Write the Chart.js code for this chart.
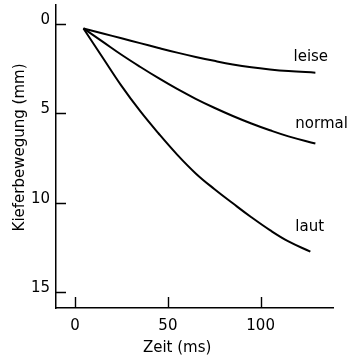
<!DOCTYPE html>
<html>
<head>
<meta charset="utf-8">
<script src="https://cdn.jsdelivr.net/npm/chart.js@4/dist/chart.umd.min.js"></script>
<style>
  html, body { margin: 0; padding: 0; background: #fff; }
  #wrap { width: 352px; height: 357px; }
</style>
</head>
<body>
<div id="wrap"><canvas id="c" width="352" height="357"></canvas></div>
<script>
// Data
const seriesNames = ['leise', 'normal', 'laut'];
const timeLeise  = [4.5, 15, 25, 35, 45, 55, 65, 75, 85, 95, 105, 115, 129.5];
const leise      = [0.25, 0.53, 0.80, 1.07, 1.34, 1.60, 1.84, 2.06, 2.26, 2.42, 2.54, 2.63, 2.72];
const timeNormal = [4.5, 15, 25, 35, 45, 55, 65, 75, 85, 95, 105, 115, 129.5];
const normal     = [0.25, 1.00, 1.72, 2.39, 3.03, 3.63, 4.18, 4.68, 5.14, 5.56, 5.94, 6.28, 6.68];
const timeLaut   = [4.5, 15, 25, 35, 45, 55, 65, 75, 85, 95, 105, 115, 126.8];
const laut       = [0.25, 1.90, 3.46, 4.86, 6.12, 7.30, 8.35, 9.22, 10.02, 10.80, 11.52, 12.15, 12.72];
const xTicks = [0, 50, 100];
const yTicks = [0, 5, 10, 15];
const xTitle = 'Zeit (ms)';
const yTitle = 'Kieferbewegung (mm)';

// label anchors (data coordinates) for curve names
const labelAnchorX = [117.7, 118.7, 118.7];
const labelAnchorY = [1.85, 5.6, 11.34];

const FONT = "'DejaVu Sans', sans-serif";

function pts(xs, ys) { return xs.map((x, i) => ({ x: x, y: ys[i] })); }

const decorations = {
  id: 'decorations',
  afterDatasetsDraw(chart) {
    const ctx = chart.ctx, xs = chart.scales.x, ys = chart.scales.y, a = chart.chartArea;
    ctx.save();
    // inward tick marks
    ctx.strokeStyle = '#000';
    ctx.lineWidth = 1.4;
    ctx.beginPath();
    xTicks.forEach(v => {
      const px = Math.round(xs.getPixelForValue(v)) + 0.5;
      ctx.moveTo(px, a.bottom);
      ctx.lineTo(px, a.bottom - 11);
    });
    ctx.stroke();
    ctx.beginPath();
    yTicks.forEach(v => {
      const py = Math.round(ys.getPixelForValue(v)) + 0.5;
      ctx.moveTo(a.left, py);
      ctx.lineTo(a.left + 10, py);
    });
    ctx.stroke();
    // curve names
    ctx.fillStyle = '#000';
    ctx.font = '15px ' + FONT;
    ctx.textAlign = 'left';
    ctx.textBaseline = 'middle';
    seriesNames.forEach((n, i) => {
      ctx.fillText(n, xs.getPixelForValue(labelAnchorX[i]), ys.getPixelForValue(labelAnchorY[i]));
    });
    // x axis title
    ctx.textAlign = 'center';
    ctx.fillText(xTitle, xs.getPixelForValue(55), 348);
    // y axis title
    ctx.translate(20, ys.getPixelForValue(6.9));
    ctx.rotate(-Math.PI / 2);
    ctx.fillText(yTitle, 0, 0);
    ctx.restore();
  }
};

new Chart(document.getElementById('c'), {
  type: 'line',
  data: {
    datasets: [
      { label: seriesNames[0], data: pts(timeLeise, leise) },
      { label: seriesNames[1], data: pts(timeNormal, normal) },
      { label: seriesNames[2], data: pts(timeLaut, laut) }
    ].map(d => Object.assign(d, {
      borderColor: '#000', borderWidth: 2, pointRadius: 0,
      tension: 0.4, fill: false
    }))
  },
  options: {
    responsive: false,
    animation: false,
    devicePixelRatio: 1,
    layout: { padding: { left: 0, right: 19, top: 5, bottom: 0 } },
    plugins: { legend: { display: false }, tooltip: { enabled: false } },
    scales: {
      x: {
        type: 'linear', min: -10.3, max: 139,
        afterBuildTicks: s => { s.ticks = xTicks.map(v => ({ value: v })); },
        afterFit: s => { s.height = 49; s.paddingLeft = 0; s.paddingRight = 0; },
        border: { display: true, color: '#000', width: 1.5 },
        grid: { drawOnChartArea: false, drawTicks: false, display: true },
        ticks: { color: '#000', font: { family: FONT, size: 15 }, padding: 9, maxRotation: 0 }
      },
      y: {
        type: 'linear', reverse: true, min: -1.06, max: 15.87,
        afterBuildTicks: s => { s.ticks = yTicks.map(v => ({ value: v })); },
        afterFit: s => { s.width = 56; s.paddingTop = 0; s.paddingBottom = 0; },
        border: { display: true, color: '#000', width: 1.5 },
        grid: { drawOnChartArea: false, drawTicks: false, display: true },
        ticks: { color: '#000', font: { family: FONT, size: 15 }, padding: 6, labelOffset: -4 },
        title: { display: false, text: yTitle }
      }
    }
  },
  plugins: [decorations]
});
</script>
</body>
</html>
